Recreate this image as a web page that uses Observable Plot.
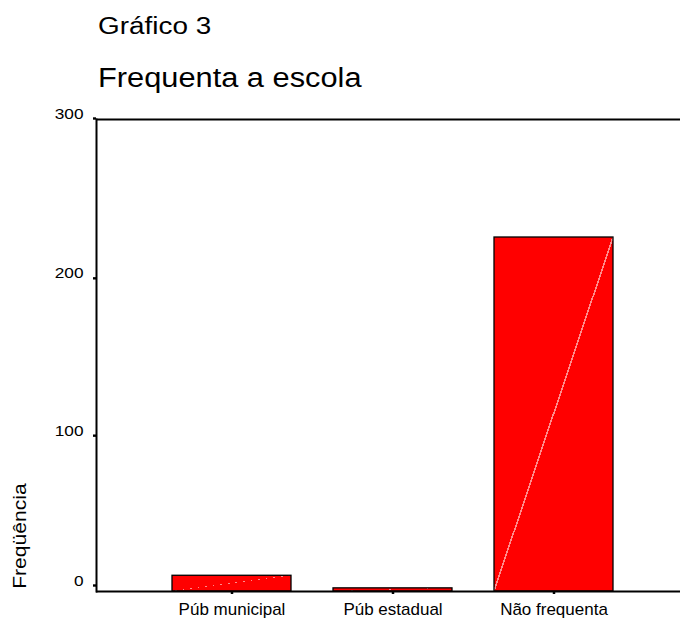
<!DOCTYPE html>
<html>
<head>
<meta charset="utf-8">
<script src="https://cdn.jsdelivr.net/npm/d3@7"></script>
<script src="https://cdn.jsdelivr.net/npm/@observablehq/plot@0.6"></script>
<style>
  html, body { margin: 0; padding: 0; background: #fff; }
  #wrap { position: relative; width: 680px; height: 618px; overflow: hidden; font-family: "Liberation Sans", Arial, sans-serif; color: #000; }
  #head { position: relative; height: 100px; }
  .t { position: absolute; left: 98px; line-height: 1; white-space: nowrap; transform-origin: 0 0; }
  #t1 { top: 14px; font-size: 24.7px; transform: scaleX(1.13); }
  #t2 { top: 65.4px; font-size: 27px; transform: scaleX(1.14); }
  #chart svg { display: block; }
</style>
</head>
<body>
<div id="wrap">
  <div id="head">
    <div class="t" id="t1">Gráfico 3</div>
    <div class="t" id="t2">Frequenta a escola</div>
  </div>
  <div id="chart"></div>
</div>
<script>
const categories = ["Púb municipal", "Púb estadual", "Não frequenta"];
const values = [10, 2, 225];
const yTicks = [0, 100, 200, 300];
const yLabel = "Freqüência";

const data = categories.map((c, i) => ({category: c, value: values[i]}));
const yMin = yTicks[0], yMax = yTicks[yTicks.length - 1];
const midTicks = yTicks.filter(t => t !== yMin && t !== yMax);

const axisOpts = {anchor: "left", tickSize: 3, tickPadding: 10, fontSize: 15, strokeWidth: 2.4, label: null};

const svg = Plot.plot({
  width: 680,
  height: 518,
  marginLeft: 96,
  marginRight: 0,
  marginTop: 19,
  marginBottom: 27,
  style: {fontFamily: "'Liberation Sans', Arial, sans-serif", color: "#000", background: "#fff", overflow: "visible"},
  x: {domain: categories, range: [149.8, 635.2], paddingInner: 0.258, paddingOuter: 0.129, label: null},
  y: {domain: [yMin, yMax], label: null},
  marks: [
    Plot.barY(data, {x: "category", y: "value", fill: "red", stroke: "black", strokeWidth: 1.3}),
    Plot.ruleY([yMin, yMax], {stroke: "black", strokeWidth: 2}),
    Plot.axisY({...axisOpts, ticks: midTicks, dy: 1.5}),
    Plot.axisY({...axisOpts, ticks: [yMax], dy: -1}),
    Plot.axisY({...axisOpts, ticks: [yMin], dy: -6}),
    Plot.frame({anchor: "left", stroke: "black", strokeWidth: 2}),
    Plot.axisX({anchor: "bottom", tickSize: 3, tickPadding: 8, fontSize: 17, strokeWidth: 2.5, label: null}),
    Plot.text([yLabel], {text: d => d, frameAnchor: "bottom-left", rotate: -90, textAnchor: "start", dx: -70.5, dy: -2.7, fontSize: 18.5})
  ]
});

document.getElementById("chart").appendChild(svg);

// faint diagonal stripe in the bars (as in the original export)
const s = d3.select(svg);
const grad = s.insert("defs", ":first-child").append("linearGradient")
  .attr("id", "diag").attr("x1", 0).attr("y1", 0).attr("x2", 1).attr("y2", 1);
[[0, "#ff0000"], [0.4965, "#ff0000"], [0.4965, "#ff8c8c"], [0.5035, "#ff8c8c"], [0.5035, "#ff0000"], [1, "#ff0000"]]
  .forEach(([o, c]) => grad.append("stop").attr("offset", o).attr("stop-color", c));
s.selectAll('g[aria-label="bar"] rect').attr("fill", "url(#diag)");

// horizontally stretched glyphs, like the original
function stretch(sel, k) {
  sel.each(function () {
    const t = d3.select(this);
    const x = +t.attr("x") || 0, y = +t.attr("y") || 0;
    t.attr("x", null).attr("y", null);
    const tr = t.attr("transform") || "";
    t.attr("transform", `${tr} translate(${x},${y}) scale(${k},1)`);
  });
}
stretch(s.selectAll('g[aria-label="y-axis tick label"] text'), 1.15);
stretch(s.selectAll('g[aria-label="text"] text'), 1.14);
</script>
</body>
</html>
